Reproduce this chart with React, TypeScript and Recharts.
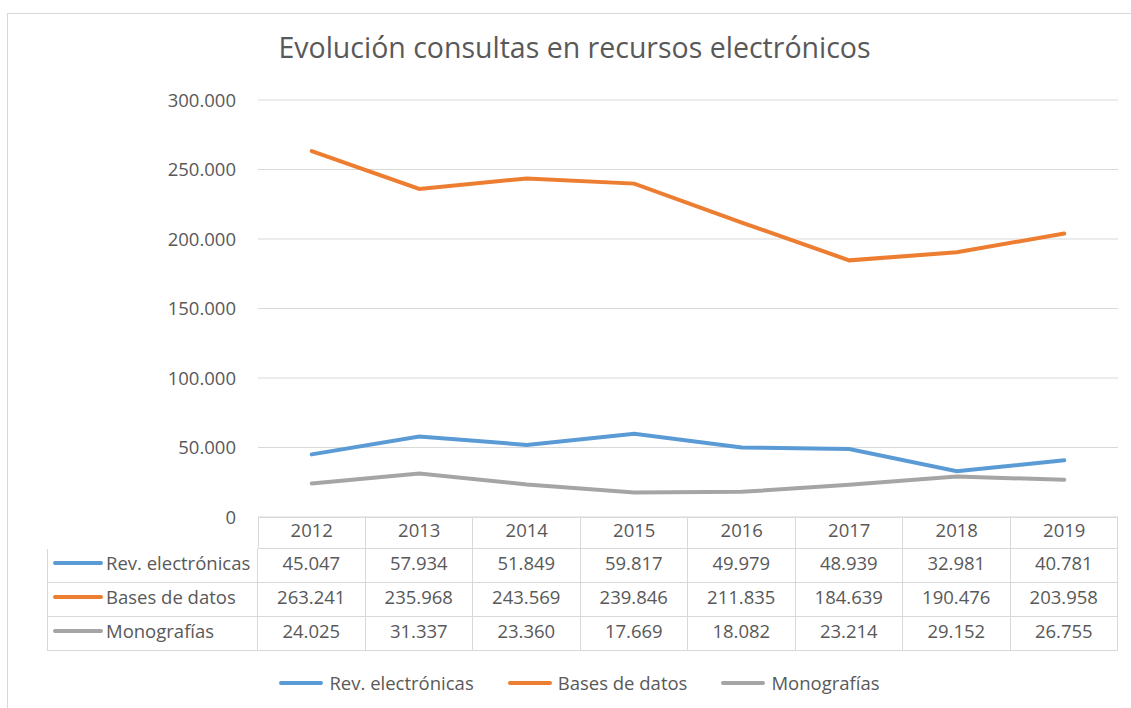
import { CartesianGrid, Line, LineChart, XAxis, YAxis } from "recharts";

const years = ["2012", "2013", "2014", "2015", "2016", "2017", "2018", "2019"];
const revElectronicas = [45047, 57934, 51849, 59817, 49979, 48939, 32981, 40781];
const basesDatos = [263241, 235968, 243569, 239846, 211835, 184639, 190476, 203958];
const monografias = [24025, 31337, 23360, 17669, 18082, 23214, 29152, 26755];
const yTicks = [0, 50000, 100000, 150000, 200000, 250000, 300000];

const series = [
  { key: "rev", name: "Rev. electrónicas", color: "#5B9BD5", values: revElectronicas },
  { key: "bases", name: "Bases de datos", color: "#ED7D31", values: basesDatos },
  { key: "mono", name: "Monografías", color: "#A5A5A5", values: monografias },
];

const data = years.map((year, i) => ({
  year,
  rev: revElectronicas[i],
  bases: basesDatos[i],
  mono: monografias[i],
}));

const FONT = "'Open Sans', 'Noto Sans', sans-serif";
const TEXT = "#595959";
const GRID = "#D9D9D9";
const FS = 18.5;

// thousands with dot separator, like the Spanish Excel original
const fmt = (v: number) => String(v).replace(/\B(?=(\d{3})+(?!\d))/g, ".");

const PLOT_L = 258;
const PLOT_R = 1118;
const PLOT_T = 100;
const PLOT_B = 517;
const XAXIS_H = 31;
const COL_W = (PLOT_R - PLOT_L) / years.length;

function Swatch({ color, width }: { color: string; width: number }) {
  return <span style={{ display: "inline-block", flex: "none", width, height: 4, borderRadius: 2, background: color }} />;
}

function ChartLegend() {
  return (
    <div
      style={{
        position: "absolute",
        left: 0,
        width: 1159,
        top: 670,
        display: "flex",
        justifyContent: "center",
        gap: 34,
        fontFamily: FONT,
        fontSize: FS,
        color: TEXT,
      }}
    >
      {series.map((s) => (
        <div key={s.key} style={{ display: "flex", alignItems: "center", gap: 6 }}>
          <Swatch color={s.color} width={44} />
          <span style={{ whiteSpace: "nowrap" }}>{s.name}</span>
        </div>
      ))}
    </div>
  );
}

function DataTable() {
  const cell = (w: number, h: number, extra: React.CSSProperties = {}): React.CSSProperties => ({
    boxSizing: "border-box",
    width: w,
    height: h,
    borderRight: `1px solid ${GRID}`,
    borderBottom: `1px solid ${GRID}`,
    display: "flex",
    alignItems: "center",
    justifyContent: "center",
    paddingBottom: 6,
    ...extra,
  });
  return (
    <div style={{ position: "absolute", left: 47, top: PLOT_B, fontFamily: FONT, fontSize: FS, color: TEXT }}>
      <div style={{ display: "flex", marginLeft: PLOT_L - 47 }}>
        {years.map((y, i) => (
          <div key={y} style={cell(COL_W, 32, { borderTop: `1px solid ${GRID}`, borderLeft: i === 0 ? `1px solid ${GRID}` : undefined })} />
        ))}
      </div>
      {series.map((s) => (
        <div key={s.key} style={{ display: "flex" }}>
          <div style={cell(PLOT_L - 47, 34, { borderLeft: `1px solid ${GRID}`, justifyContent: "flex-start", paddingLeft: 5, gap: 3 })}>
            <Swatch color={s.color} width={50} />
            <span style={{ whiteSpace: "nowrap" }}>{s.name}</span>
          </div>
          {s.values.map((v, i) => (
            <div key={i} style={cell(COL_W, 34)}>
              {fmt(v)}
            </div>
          ))}
        </div>
      ))}
    </div>
  );
}

export default function App() {
  return (
    <div style={{ position: "absolute", left: 0, top: 0, width: 1131, height: 708, background: "#fff", overflow: "hidden" }}>
      <div style={{ position: "absolute", left: 7, top: 13, width: 1200, height: 800, borderLeft: `1px solid ${GRID}`, borderTop: `1px solid ${GRID}` }} />
      <div style={{ position: "absolute", left: 0, width: 1149, top: 28, textAlign: "center", fontFamily: FONT, fontSize: 28.5, color: TEXT }}>
        Evolución consultas en recursos electrónicos
      </div>
      <DataTable />
      <ChartLegend />
      <div style={{ position: "absolute", left: 0, top: 0 }}>
        <LineChart
          width={1131}
          height={708}
          data={data}
          margin={{ top: PLOT_T, right: 1131 - PLOT_R, bottom: 708 - PLOT_B - XAXIS_H, left: PLOT_L - 100 }}
        >
          <CartesianGrid horizontal vertical={false} stroke={GRID} />
          <XAxis
            dataKey="year"
            axisLine={false}
            tickLine={false}
            padding={{ left: COL_W / 2, right: COL_W / 2 }}
            tick={{ fill: TEXT, fontSize: FS, fontFamily: FONT }}
            tickMargin={1}
            height={XAXIS_H}
          />
          <YAxis
            width={100}
            domain={[0, 300000]}
            ticks={yTicks}
            tickFormatter={fmt}
            axisLine={false}
            tickLine={false}
            tickMargin={16}
            tick={{ fill: TEXT, fontSize: FS, fontFamily: FONT }}
          />
          {series.map((s) => (
            <Line
              key={s.key}
              type="linear"
              dataKey={s.key}
              name={s.name}
              stroke={s.color}
              strokeWidth={4}
              strokeLinecap="round"
              dot={false}
              activeDot={false}
              isAnimationActive={false}
            />
          ))}
        </LineChart>
      </div>
    </div>
  );
}
